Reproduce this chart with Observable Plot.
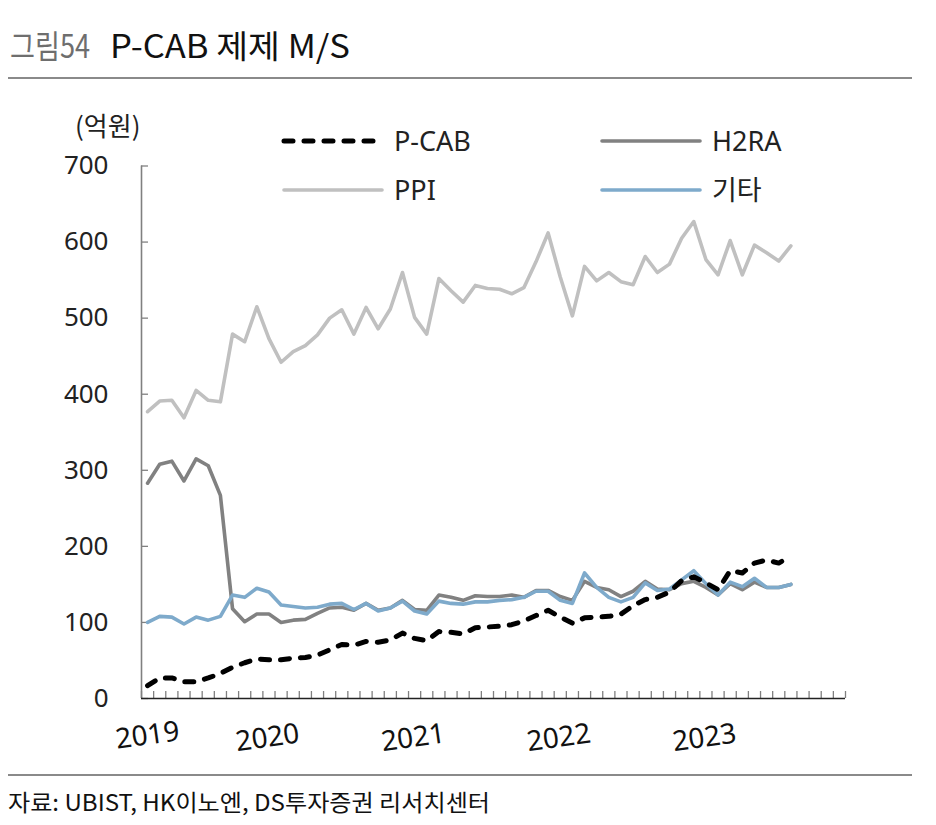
<!DOCTYPE html>
<html><head><meta charset="utf-8">
<script src="https://cdn.jsdelivr.net/npm/d3@7"></script>
<script src="https://cdn.jsdelivr.net/npm/@observablehq/plot@0.6"></script>
<style>
body{margin:0;background:#fff;}
#page{position:relative;width:936px;height:825px;overflow:hidden;background:#fff;font-family:"Noto Sans","Noto Sans CJK KR",sans-serif;}
.abs{position:absolute;}
</style></head><body>
<div id="page">
  <svg class="abs" style="left:0;top:0" width="936" height="80">
    <text x="10" y="58" font-size="32" fill="#6e6e6e" textLength="80" lengthAdjust="spacingAndGlyphs" font-family="Noto Sans CJK KR">그림54</text>
    <text x="110" y="58" font-size="32" fill="#111" textLength="240" lengthAdjust="spacingAndGlyphs" font-family="Noto Sans CJK KR">P-CAB 제제 M/S</text>
  </svg>
  <div class="abs" style="left:8px;top:77px;width:904px;height:2px;background:#8a8a8a"></div>
  <div id="chart" class="abs" style="left:0;top:95px"></div>
  <svg id="legend" class="abs" style="left:0;top:0" width="936" height="230"></svg>
  <div class="abs" style="left:8px;top:774px;width:904px;height:2px;background:#8a8a8a"></div>
  <svg class="abs" style="left:0;top:780px" width="936" height="45">
    <text x="8" y="31" font-size="23" fill="#111" textLength="482" lengthAdjust="spacingAndGlyphs" font-family="Noto Sans CJK KR">자료: UBIST, HK이노엔, DS투자증권 리서치센터</text>
  </svg>
</div>
<script>
// ---- data ----
const months = ["2019-01","2019-02","2019-03","2019-04","2019-05","2019-06","2019-07","2019-08","2019-09","2019-10","2019-11","2019-12",
"2020-01","2020-02","2020-03","2020-04","2020-05","2020-06","2020-07","2020-08","2020-09","2020-10","2020-11","2020-12",
"2021-01","2021-02","2021-03","2021-04","2021-05","2021-06","2021-07","2021-08","2021-09","2021-10","2021-11","2021-12",
"2022-01","2022-02","2022-03","2022-04","2022-05","2022-06","2022-07","2022-08","2022-09","2022-10","2022-11","2022-12",
"2023-01","2023-02","2023-03","2023-04","2023-05","2023-06"];
const extraAxisMonths = ["2023-07","2023-08","2023-09","2023-10"];
const pcab = [17,27,27,22,22,27,33,41,47,52,51,51,53,54,57,64,71,70,75,74,77,86,79,76,88,87,85,93,94,95,97,102,109,116,107,99,106,107,108,111,122,130,133,140,155,160,152,143,168,165,178,182,178,187];
const h2ra = [283,308,312,286,315,306,267,118,101,111,111,100,103,104,112,119,120,116,125,116,119,129,117,116,136,133,129,135,134,134,136,133,142,142,134,129,154,146,143,134,141,154,144,143,151,154,146,136,151,143,153,146,146,150];
const ppi = [377,391,392,369,405,392,390,479,469,515,473,442,456,464,478,500,511,479,514,486,512,560,501,479,552,536,521,543,539,538,532,540,574,612,554,503,568,549,560,548,544,581,560,571,605,627,577,557,602,557,596,586,575,595];
const other = [100,108,107,98,107,103,108,136,133,145,140,123,121,119,120,124,125,117,125,115,119,128,115,111,128,125,124,127,127,129,130,133,141,141,129,125,165,146,133,127,133,152,142,144,156,168,151,136,153,147,158,146,146,150];
const yTicks = [0,100,200,300,400,500,600,700];
const yearLabels = ["2019","2020","2021","2022","2023"];
const yearLabelMonths = ["2019-01","2020-01","2021-01","2022-01","2023-01"];
const unitLabel = "(억원)";

// ---- build ----
const categories = months.concat(extraAxisMonths);
const idx = m => categories.indexOf(m);
const boundaries = d3.range(categories.length + 1).map(i => i - 0.5);

const series = [
  {name: "PPI", values: ppi, stroke: "#c0c0c0", width: 3.6},
  {name: "H2RA", values: h2ra, stroke: "#818181", width: 3.6},
  {name: "기타", values: other, stroke: "#7eaacb", width: 3.6},
  {name: "P-CAB", values: pcab, stroke: "#000", width: 5, dash: "9,11"}
];
const rowsOf = s => s.values.map((v, k) => ({x: idx(months[k]), y: v}));
const yearRows = yearLabels.map((t, k) => ({t, x: idx(yearLabelMonths[k]), y0: 0}));

const lineMarks = series.map(s => Plot.line(rowsOf(s), {
  x: "x", y: "y", stroke: s.stroke, strokeWidth: s.width,
  strokeDasharray: s.dash || null, strokeLinecap: "round", strokeLinejoin: "round"
}));

const chart = Plot.plot({
  width: 936, height: 670,
  marginLeft: 141, marginRight: 91, marginTop: 70.5, marginBottom: 67,
  style: {fontFamily: '"Noto Sans","Noto Sans CJK KR",sans-serif', background: "transparent", color: "#222", overflow: "visible"},
  x: {domain: [-0.5, categories.length - 0.5]},
  y: {domain: [0, 700]},
  marks: [
    Plot.axisY({ticks: yTicks, tickSize: 0, tickPadding: 33, fontSize: 26, fill: "#222", label: null}),
    Plot.axisY({ticks: yTicks, tickSize: 7, dx: 7, tickFormat: () => "", stroke: "#808080", strokeWidth: 1.3, label: null}),
    Plot.axisX({ticks: boundaries, tickSize: 7, dy: -7, tickFormat: () => "", stroke: "#808080", strokeWidth: 1.3, label: null}),
    Plot.ruleX([-0.5], {stroke: "#808080", strokeWidth: 1.6}),
    Plot.ruleY([0], {stroke: "#222", strokeWidth: 1.6}),
    ...lineMarks,
    Plot.text(yearRows.slice(0, 1), {x: "x", y: "y0", text: "t", dy: 37, rotate: -8, textAnchor: "middle", fontSize: 28, fill: "#111"}),
    Plot.text(yearRows.slice(1), {x: "x", y: "y0", text: "t", dy: 35, dx: 6, rotate: -8, textAnchor: "end", fontSize: 28, fill: "#111"})
  ]
});
document.getElementById("chart").appendChild(chart);

// ---- legend & unit label ----
const lg = d3.select("#legend");
lg.append("text").attr("x", 75).attr("y", 136).attr("font-size", 26).attr("fill", "#222")
  .attr("font-family", '"Noto Sans CJK KR","Noto Sans",sans-serif').text(unitLabel);
const legendOrder = ["P-CAB", "H2RA", "PPI", "기타"];
legendOrder.forEach((name, k) => {
  const s = series.find(d => d.name === name);
  const col = k % 2, row = Math.floor(k / 2);
  const x0 = col ? 602 : 284, yy = row ? 190 : 141;
  lg.append("line").attr("x1", x0).attr("x2", x0 + 98).attr("y1", yy).attr("y2", yy)
    .attr("stroke", s.stroke).attr("stroke-width", s.width)
    .attr("stroke-dasharray", s.dash || null).attr("stroke-linecap", "round");
  lg.append("text").attr("x", x0 + 110).attr("y", yy).attr("dy", "0.36em")
    .attr("font-size", 27).attr("fill", "#222")
    .attr("font-family", '"Noto Sans","Noto Sans CJK KR",sans-serif').text(name);
});
</script>
</body></html>
